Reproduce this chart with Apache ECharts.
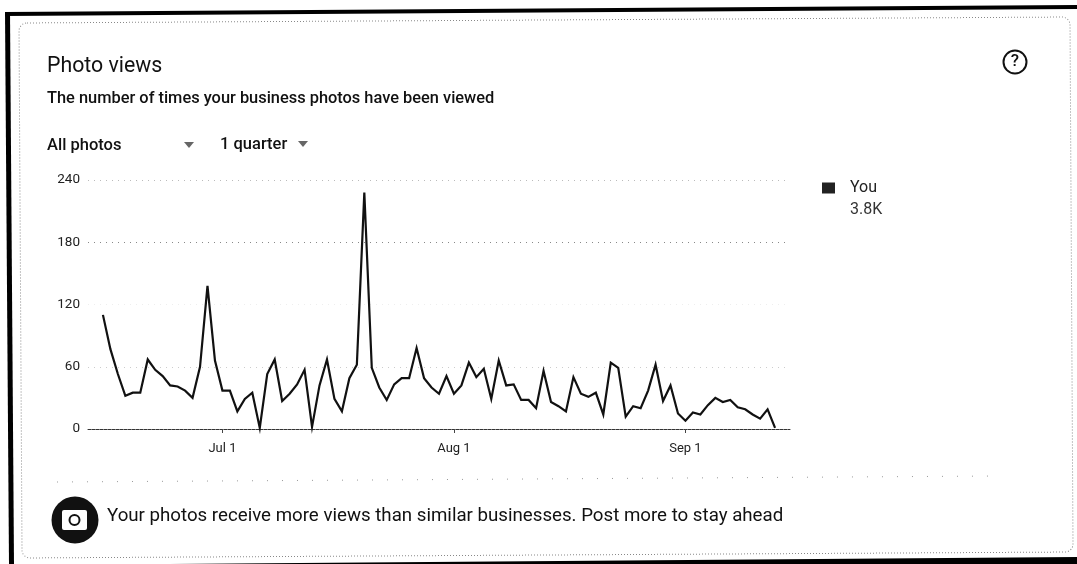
<!DOCTYPE html>
<html><head><meta charset="utf-8">
<style>html,body{margin:0;padding:0;background:#fff}#c{width:1077px;height:564px}</style>
<script src="https://cdn.jsdelivr.net/npm/echarts@6/dist/echarts.min.js"></script>
</head><body><div id="c"></div>
<script>
const dates = ["Jun 13","Jun 14","Jun 15","Jun 16","Jun 17","Jun 18","Jun 19","Jun 20","Jun 21","Jun 22","Jun 23","Jun 24","Jun 25","Jun 26","Jun 27","Jun 28","Jun 29","Jun 30",
"Jul 1","Jul 2","Jul 3","Jul 4","Jul 5","Jul 6","Jul 7","Jul 8","Jul 9","Jul 10","Jul 11","Jul 12","Jul 13","Jul 14","Jul 15","Jul 16","Jul 17","Jul 18","Jul 19","Jul 20","Jul 21","Jul 22","Jul 23","Jul 24","Jul 25","Jul 26","Jul 27","Jul 28","Jul 29","Jul 30","Jul 31",
"Aug 1","Aug 2","Aug 3","Aug 4","Aug 5","Aug 6","Aug 7","Aug 8","Aug 9","Aug 10","Aug 11","Aug 12","Aug 13","Aug 14","Aug 15","Aug 16","Aug 17","Aug 18","Aug 19","Aug 20","Aug 21","Aug 22","Aug 23","Aug 24","Aug 25","Aug 26","Aug 27","Aug 28","Aug 29","Aug 30","Aug 31",
"Sep 1","Sep 2","Sep 3","Sep 4","Sep 5","Sep 6","Sep 7","Sep 8","Sep 9","Sep 10","Sep 11","Sep 12","Sep 13","Sep 14","Sep 15"];
const you = [null,null,110,77,53,32,35,35,67,57,51,42,41,37,30,60,138,66,
37,37,17,29,35,1,53,67,27,34,43,57,2,42,67,29,17,49,62,228,59,40,28,43,49,49,78,49,40,34,51,
34,42,64,50,58,29,66,42,43,28,28,20,56,26,22,17,50,34,31,35,14,64,59,12,22,20,37,62,27,42,15,
8,16,14,23,30,26,28,21,19,14,10,19,1,null,null];
const yTicks = [0,60,120,180,240];
const monthTicks = ["Jul 1","Aug 1","Sep 1"];
const seriesName = "You";
const total = "3.8K";
const title = "Photo views";
const subtitle = "The number of times your business photos have been viewed";
const filterA = "All photos";
const filterB = "1 quarter";
const insight = "Your photos receive more views than similar businesses. Post more to stay ahead";

const FONT = "Roboto";
const txt = (x,y,text,size,weight,fill) => ({type:'text',x,y,silent:true,
  style:{text,fontFamily:FONT,fontSize:size,fontWeight:weight,fill:fill||'#111',verticalAlign:'middle'}});
const poly = (points) => ({type:'polygon',silent:true,shape:{points},style:{fill:'#000'}});
const tri = (x,y) => ({type:'polygon',silent:true,shape:{points:[[x-5,y-3],[x+5,y-3],[x,y+3]]},style:{fill:'#666'}});

const chart = echarts.init(document.getElementById('c'),null,{renderer:'canvas'});
chart.setOption({
  animation:false,
  backgroundColor:'#fff',
  textStyle:{fontFamily:FONT},
  grid:{left:88,right:287,top:180,bottom:135},
  legend:{left:817,top:175,icon:'rect',itemWidth:13,itemHeight:11,itemGap:8,
    data:[seriesName],textStyle:{fontFamily:FONT,fontSize:16,color:'#222',padding:[0,0,0,10]}},
  xAxis:{type:'category',data:dates,boundaryGap:false,
    axisLine:{lineStyle:{color:'#333',width:1,type:[3,1]}},
    axisTick:{length:4,lineStyle:{color:'#444'},interval:(i,v)=>monthTicks.includes(v)},
    axisLabel:{interval:(i,v)=>monthTicks.includes(v),fontFamily:FONT,fontSize:13,color:'#222',margin:13,hideOverlap:false},
    splitLine:{show:false}},
  yAxis:{type:'value',min:yTicks[0],max:yTicks[yTicks.length-1],interval:60,
    axisLine:{show:false},axisTick:{show:false},
    axisLabel:{fontFamily:FONT,fontSize:13.5,color:'#222',margin:8},
    splitLine:{lineStyle:{color:['#fff','#ccc','#eee','#888','#bbb'],width:1,type:[1,5]}}},
  series:[{name:seriesName,type:'line',data:you,showSymbol:false,symbol:'none',
    connectNulls:false,clip:false,
    lineStyle:{color:'#111',width:2.2,join:'miter'},itemStyle:{color:'#222'}}],
  graphic:[
    poly([[5,12],[1077,5],[1077,9],[5,16]]),
    poly([[5,12],[10,12],[14,564],[9,564]]),
    poly([[170,564],[1077,557],[1077,564]]),
    {type:'rect',silent:true,x:19,y:23,rotation:0.0057,shape:{x:0,y:0,width:1051,height:535,r:8},
      style:{fill:'none',stroke:'#888',lineWidth:1,lineDash:[1,2]}},
    {type:'line',silent:true,shape:{x1:57,y1:482,x2:1000,y2:476},style:{stroke:'#999',lineWidth:1,lineDash:[1,14]}},
    txt(47,67,title,21.3,400),
    txt(47,99,subtitle,16.4,500),
    txt(47,146,filterA,16.5,500),
    tri(189,145),
    txt(220,145,filterB,16.5,500),
    tri(303,144),
    txt(850,210,total,16,400,'#333'),
    {type:'circle',silent:true,shape:{cx:1015,cy:62,r:11.5},style:{fill:'#fff',stroke:'#111',lineWidth:2}},
    {type:'text',silent:true,x:1015,y:62,style:{text:'?',fontFamily:FONT,fontSize:17,fontWeight:500,fill:'#111',align:'center',verticalAlign:'middle'}},
    {type:'circle',silent:true,shape:{cx:75,cy:520,r:23.5},style:{fill:'#111'}},
    {type:'rect',silent:true,shape:{x:62,y:510,width:25,height:20,r:2},style:{fill:'#fff'}},
    {type:'circle',silent:true,shape:{cx:74.5,cy:520,r:5},style:{fill:'#fff',stroke:'#111',lineWidth:2}},
    txt(107,516,insight,18.7,400)
  ]
});
</script></body></html>
